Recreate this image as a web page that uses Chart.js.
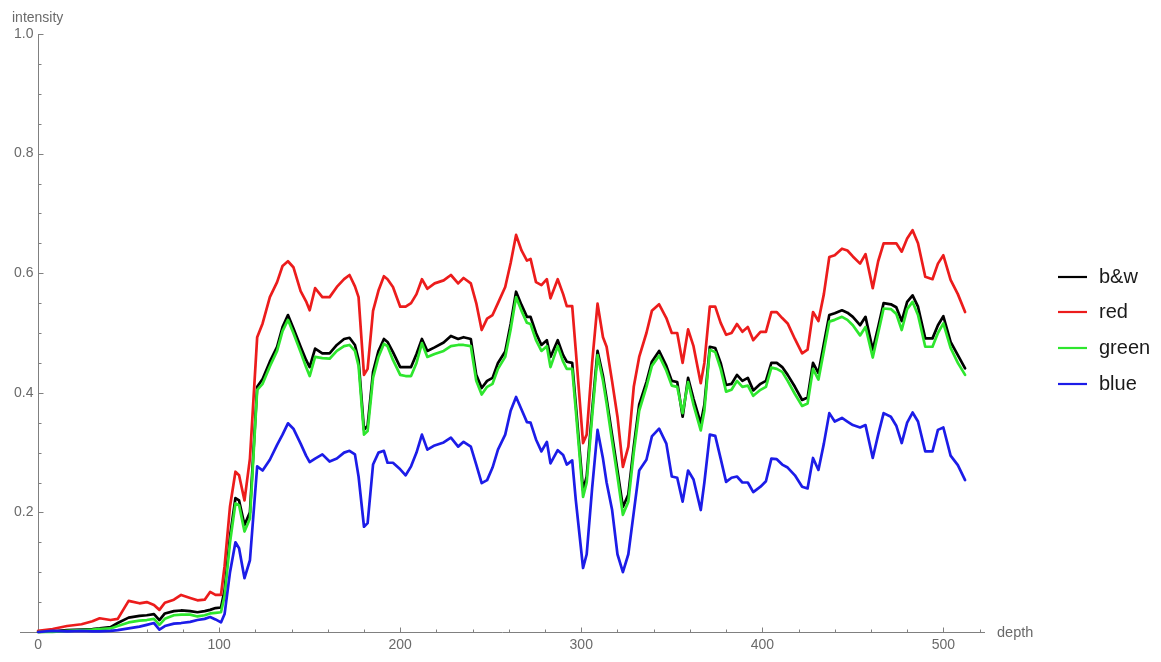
<!DOCTYPE html>
<html>
<head>
<meta charset="utf-8">
<script src="https://cdn.jsdelivr.net/npm/chart.js@4.4.1/dist/chart.umd.min.js"></script>
<style>
  html, body { margin: 0; padding: 0; background: #ffffff; }
  #wrap { width: 1161px; height: 662px; }
</style>
</head>
<body>
<div id="wrap"><canvas id="chart" width="1161" height="662"></canvas></div>
<script>
// Depth samples shared by all four channel profiles
const depth = [
  0, 8, 16, 24, 30, 34, 40, 44, 50, 56,
  60, 64, 67, 70, 75, 79, 84, 88, 92, 95,
  98, 101, 103, 106, 109, 111, 114, 117, 121, 124,
  128, 132, 135, 138, 141, 145, 148, 150, 153, 157,
  161, 165, 169, 172, 175, 177, 180, 182, 185, 188,
  191, 193, 196, 200, 203, 206, 209, 212, 215, 219,
  224, 228, 232, 235, 239, 242, 245, 248, 251, 254,
  258, 261, 264, 267, 270, 272, 275, 278, 281, 283,
  287, 290, 292, 295, 297, 301, 303, 306, 309, 312,
  314, 317, 320, 323, 326, 329, 332, 336, 339, 343,
  347, 350, 353, 356, 359, 362, 366, 368, 371, 374,
  377, 380, 383, 386, 389, 392, 395, 399, 402, 405,
  408, 411, 414, 418, 422, 425, 428, 431, 434, 437,
  440, 444, 447, 450, 454, 457, 461, 464, 467, 471,
  474, 477, 480, 483, 486, 490, 494, 497, 500, 504,
  508, 512
];

const bwIntensity = [
  0, .001, .003, .004, .005, .006, .008, .015, .024, .027,
  .028, .030, .020, .031, .035, .036, .035, .033, .035, .037,
  .040, .041, .070, .160, .224, .220, .179, .200, .410, .423,
  .452, .477, .510, .530, .508, .477, .455, .443, .474, .466,
  .466, .480, .490, .492, .480, .455, .338, .345, .435, .470,
  .490, .485, .468, .443, .443, .443, .465, .490, .470, .476,
  .484, .495, .490, .493, .490, .430, .408, .420, .425, .450,
  .469, .515, .569, .547, .527, .527, .500, .480, .488, .460,
  .488, .463, .452, .450, .380, .237, .260, .370, .470, .428,
  .390, .330, .270, .209, .230, .310, .380, .418, .452, .470,
  .445, .420, .418, .360, .425, .390, .349, .380, .477, .475,
  .450, .413, .415, .430, .420, .425, .404, .415, .420, .450,
  .450, .443, .430, .410, .388, .392, .450, .433, .482, .530,
  .533, .538, .534, .527, .513, .527, .472, .510, .550, .548,
  .543, .520, .552, .563, .544, .491, .491, .513, .528, .485,
  .463, .441
];

const redIntensity = [
  .002, .005, .010, .013, .018, .023, .020, .022, .052, .048,
  .050, .045, .037, .049, .054, .062, .057, .053, .054, .067,
  .062, .062, .110, .210, .268, .262, .220, .290, .493, .516,
  .560, .585, .612, .620, .610, .570, .553, .538, .575, .560,
  .560, .577, .590, .597, .578, .560, .430, .440, .537, .571,
  .595, .590, .577, .544, .544, .550, .565, .590, .574, .583,
  .588, .597, .583, .592, .583, .550, .505, .524, .530, .550,
  .577, .617, .664, .638, .621, .624, .585, .580, .590, .558,
  .590, .565, .545, .545, .470, .316, .330, .450, .549, .493,
  .477, .420, .360, .276, .310, .410, .460, .500, .537, .548,
  .525, .500, .500, .450, .506, .478, .416, .450, .544, .544,
  .517, .497, .500, .515, .502, .510, .488, .502, .502, .535,
  .535, .525, .516, .490, .466, .472, .535, .520, .565, .627,
  .630, .641, .638, .628, .616, .632, .575, .620, .650, .650,
  .650, .636, .658, .672, .650, .594, .590, .616, .630, .589,
  .565, .535
];

const greenIntensity = [
  0, 0, .002, .003, .004, .005, .006, .010, .016, .019,
  .020, .022, .012, .022, .028, .029, .029, .026, .028, .031,
  .032, .033, .060, .150, .215, .212, .168, .190, .405, .415,
  .444, .470, .503, .522, .500, .468, .443, .428, .460, .458,
  .457, .470, .478, .480, .470, .445, .330, .336, .425, .460,
  .482, .478, .455, .430, .428, .428, .450, .483, .460, .465,
  .470, .478, .480, .480, .478, .420, .397, .410, .415, .440,
  .460, .506, .560, .537, .517, .515, .488, .470, .478, .443,
  .478, .452, .440, .440, .370, .226, .250, .360, .463, .420,
  .382, .320, .260, .196, .218, .300, .370, .410, .445, .462,
  .437, .412, .410, .366, .418, .380, .337, .370, .472, .468,
  .440, .402, .405, .420, .410, .412, .395, .405, .410, .442,
  .440, .435, .420, .398, .378, .382, .440, .422, .470, .519,
  .522, .527, .522, .513, .496, .510, .459, .500, .541, .540,
  .532, .505, .540, .552, .530, .477, .477, .500, .516, .475,
  .450, .430
];

const blueIntensity = [
  0, .002, .001, .002, .001, .001, .002, .003, .006, .009,
  .012, .015, .004, .010, .014, .015, .017, .020, .022, .025,
  .021, .016, .030, .100, .150, .140, .090, .120, .277, .270,
  .288, .313, .330, .349, .340, .315, .295, .284, .290, .297,
  .285, .290, .300, .303, .297, .260, .176, .182, .280, .300,
  .303, .283, .283, .272, .262, .277, .300, .330, .305, .312,
  .317, .325, .310, .318, .310, .280, .249, .254, .275, .305,
  .330, .370, .393, .372, .351, .350, .322, .302, .318, .282,
  .304, .296, .280, .287, .220, .107, .130, .240, .338, .290,
  .250, .205, .130, .100, .130, .200, .270, .288, .327, .340,
  .315, .260, .258, .218, .270, .255, .204, .250, .330, .328,
  .290, .251, .258, .260, .250, .250, .234, .243, .252, .290,
  .289, .280, .275, .262, .243, .240, .291, .271, .315, .366,
  .352, .358, .352, .346, .342, .346, .291, .330, .366, .360,
  .345, .316, .350, .367, .352, .302, .302, .338, .342, .295,
  .279, .254
];

// Axis ticks
const xMajorTicks = [0, 100, 200, 300, 400, 500];
const xMinorTicks = [20, 40, 60, 80, 120, 140, 160, 180, 220, 240, 260, 280,
                     320, 340, 360, 380, 420, 440, 460, 480, 520];
const yMajorTicks = [0.2, 0.4, 0.6, 0.8, 1.0];
const yTickLabels = ['0.2', '0.4', '0.6', '0.8', '1.0'];
const yMinorTicks = [0.05, 0.1, 0.15, 0.25, 0.3, 0.35, 0.45, 0.5, 0.55,
                     0.65, 0.7, 0.75, 0.85, 0.9, 0.95];

const seriesNames = ['b&w', 'red', 'green', 'blue'];
const seriesColors = ['#000000', '#ec1c1c', '#2ee62e', '#1c1ce8'];

const FONT = '"Liberation Sans", Arial, sans-serif';
const AXIS_COLOR = '#808080';
const LABEL_COLOR = '#6a6a6a';

function toPoints(values) {
  return values.map((v, i) => ({ x: depth[i], y: v }));
}

// Axes drawn through the origin with inward tick marks, plus the legend
const axesPlugin = {
  id: 'originAxes',
  beforeDatasetsDraw(chart) {
    const { ctx, chartArea, scales: { x, y } } = chart;
    const x0 = Math.round(x.getPixelForValue(0)) + 0.5;
    const y0 = Math.round(y.getPixelForValue(0)) + 0.5;
    ctx.save();
    ctx.strokeStyle = AXIS_COLOR;
    ctx.lineWidth = 1;
    ctx.beginPath();
    ctx.moveTo(chartArea.left, y0);
    ctx.lineTo(chartArea.right, y0);
    ctx.moveTo(x0, y0);
    ctx.lineTo(x0, y.getPixelForValue(1));
    // x ticks point up
    xMajorTicks.forEach(v => {
      const px = Math.round(x.getPixelForValue(v)) + 0.5;
      ctx.moveTo(px, y0); ctx.lineTo(px, y0 - 5);
    });
    xMinorTicks.forEach(v => {
      const px = Math.round(x.getPixelForValue(v)) + 0.5;
      ctx.moveTo(px, y0); ctx.lineTo(px, y0 - 3);
    });
    // y ticks point right
    yMajorTicks.forEach(v => {
      const py = Math.round(y.getPixelForValue(v)) + 0.5;
      ctx.moveTo(x0, py); ctx.lineTo(x0 + 5, py);
    });
    yMinorTicks.forEach(v => {
      const py = Math.round(y.getPixelForValue(v)) + 0.5;
      ctx.moveTo(x0, py); ctx.lineTo(x0 + 3, py);
    });
    ctx.stroke();

    ctx.fillStyle = LABEL_COLOR;
    ctx.font = '14px ' + FONT;
    ctx.textAlign = 'center';
    ctx.textBaseline = 'middle';
    xMajorTicks.forEach(v => {
      ctx.fillText(String(v), x.getPixelForValue(v), y0 + 13);
    });
    ctx.textAlign = 'right';
    yMajorTicks.forEach((v, i) => {
      ctx.fillText(yTickLabels[i], x0 - 5, y.getPixelForValue(v));
    });
    ctx.textAlign = 'left';
    ctx.textBaseline = 'alphabetic';
    ctx.fillText('intensity', 12, 22);
    ctx.font = '14.5px ' + FONT;
    ctx.fillText('depth', chartArea.right + 12, y0 + 4);
    ctx.restore();
  },
  afterDraw(chart) {
    const { ctx } = chart;
    ctx.save();
    ctx.font = '20px ' + FONT;
    ctx.textBaseline = 'middle';
    ctx.textAlign = 'left';
    const rows = [277, 312, 348, 384];
    seriesNames.forEach((name, i) => {
      ctx.strokeStyle = seriesColors[i];
      ctx.lineWidth = 2.2;
      ctx.beginPath();
      ctx.moveTo(1058, rows[i]);
      ctx.lineTo(1087, rows[i]);
      ctx.stroke();
      ctx.fillStyle = '#1a1a1a';
      ctx.fillText(name, 1099, rows[i]);
    });
    ctx.restore();
  }
};

const seriesValues = [bwIntensity, redIntensity, greenIntensity, blueIntensity];

new Chart(document.getElementById('chart'), {
  type: 'line',
  data: {
    datasets: seriesNames.map((name, i) => ({
      label: name,
      data: toPoints(seriesValues[i]),
      borderColor: seriesColors[i],
      backgroundColor: seriesColors[i],
      borderWidth: 2.7,
      pointRadius: 0,
      tension: 0,
      fill: false,
      clip: false,
      borderJoinStyle: 'round',
      borderCapStyle: 'round',
      order: 4 - i
    }))
  },
  options: {
    responsive: false,
    devicePixelRatio: 1,
    animation: false,
    layout: { padding: { left: 20, right: 176, top: 34, bottom: 30 } },
    plugins: { legend: { display: false }, tooltip: { enabled: false } },
    scales: {
      x: { type: 'linear', min: -10, max: 523, display: false },
      y: { type: 'linear', min: 0, max: 1, display: false }
    }
  },
  plugins: [axesPlugin]
});
</script>
</body>
</html>
